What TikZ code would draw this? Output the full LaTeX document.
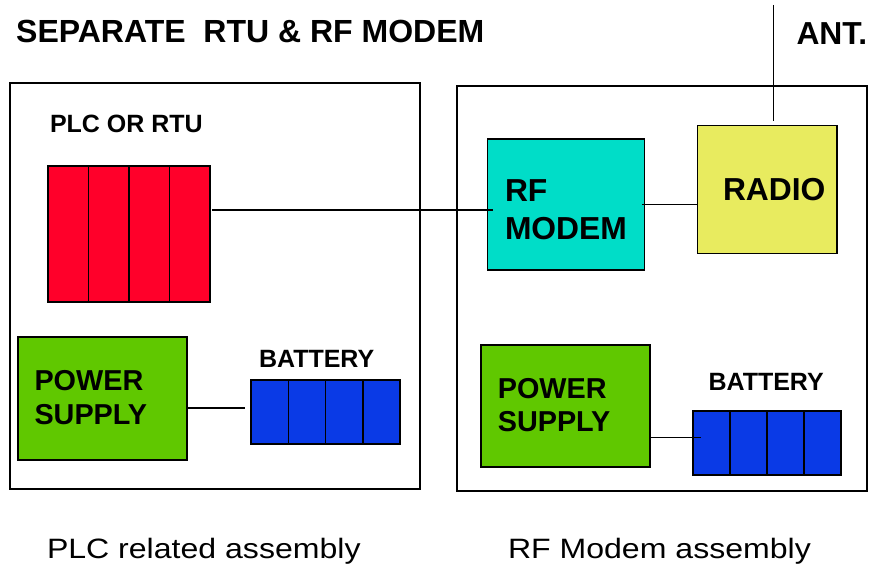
\documentclass[tikz,border=0pt]{standalone}
\usepackage{fontspec}
\setmainfont{Liberation Sans}
\usetikzlibrary{calc}
\definecolor{plcred}{RGB}{255,0,42}
\definecolor{psgreen}{RGB}{96,200,0}
\definecolor{batblue}{RGB}{10,58,230}
\definecolor{modemcyan}{RGB}{0,221,200}
\definecolor{radioyellow}{RGB}{232,235,95}
\tikzset{
  box/.style={draw=black, line width=1.5pt, anchor=north west, inner sep=0pt, outer sep=0pt},
  wire/.style={draw=black, line width=1.5pt},
  lbl/.style={anchor=base west, inner sep=0pt, outer sep=0pt, font=\bfseries\fontsize{25}{28}\selectfont},
  big/.style={anchor=base west, inner sep=0pt, outer sep=0pt, font=\bfseries\fontsize{28.8}{32}\selectfont},
  huge/.style={anchor=base west, inner sep=0pt, outer sep=0pt, font=\bfseries\fontsize{31.8}{35}\selectfont},
  captxt/.style={anchor=base west, inner sep=0pt, outer sep=0pt, font=\fontsize{28}{32}\selectfont},
}
\begin{document}
\begin{tikzpicture}[x=1pt, y=-1pt]
\useasboundingbox (0,0) rectangle (874,567);
% titles
\node[anchor=base west, inner sep=0pt, font=\bfseries\fontsize{32}{36}\selectfont] (title) at (16,42.3) {SEPARATE\ \ RTU \& RF MODEM};
\node[huge] (ant) at (796.5,45) {ANT.};
% outer assemblies
\node[box, minimum width=410pt, minimum height=406pt] (left) at (10,83) {};
\node[box, minimum width=410pt, minimum height=405pt] (right) at (457,86) {};
% left assembly
\node[lbl] (plclbl) at (50,132.7) {PLC OR RTU};
\node[box, fill=plcred, minimum width=162pt, minimum height=136pt] (plc) at (48,166) {};
\foreach \f in {0.25,0.5,0.75}
  \draw[line width=1.5pt] ($(plc.north west)!\f!(plc.north east)$) -- ($(plc.south west)!\f!(plc.south east)$);
\node[box, fill=psgreen, minimum width=169pt, minimum height=123pt] (ps1) at (18,337) {};
\node[big] (ps1a) at (34.5,390) {POWER};
\node[big] (ps1b) at (34.5,424) {SUPPLY};
\node[lbl] (bat1lbl) at (259,367.3) {BATTERY};
\node[box, fill=batblue, minimum width=149pt, minimum height=64pt] (bat1) at (251,380) {};
\foreach \f in {0.25,0.5,0.75}
  \draw[line width=1.5pt] ($(bat1.north west)!\f!(bat1.north east)$) -- ($(bat1.south west)!\f!(bat1.south east)$);
% right assembly
\node[box, fill=modemcyan, minimum width=157pt, minimum height=131pt] (modem) at (487.7,139) {};
\node[huge] (rf) at (505,201) {RF};
\node[huge] (modemtxt) at (505,239) {MODEM};
\node[box, fill=radioyellow, minimum width=139.7pt, minimum height=128pt] (radio) at (697.3,125.7) {};
\node[huge] (radiotxt) at (723,200) {RADIO};
\node[box, fill=psgreen, minimum width=169pt, minimum height=122pt] (ps2) at (481,345) {};
\node[big] (ps2a) at (497.8,398.3) {POWER};
\node[big] (ps2b) at (497.8,431.7) {SUPPLY};
\node[lbl] (bat2lbl) at (708.5,390) {BATTERY};
\node[box, fill=batblue, minimum width=148pt, minimum height=64pt] (bat2) at (693,411) {};
\foreach \f in {0.25,0.5,0.75}
  \draw[line width=1.5pt] ($(bat2.north west)!\f!(bat2.north east)$) -- ($(bat2.south west)!\f!(bat2.south east)$);
% connectors
\coordinate (m1) at (493,210);
\draw[wire] (plc.east |- m1) ++(2,0) -- (m1);
\draw[wire] (modem.east) ++(-2.5,0) -- (modem.east -| radio.west);
\coordinate (b1) at (245,408);
\draw[wire] (ps1.east |- b1) -- (b1);
\coordinate (b2) at (700.7,437.3);
\draw[wire] (ps2.east |- b2) -- (b2);
\coordinate (anttop) at (773.3,5);
\coordinate (antbot) at (773.3,121);
\draw[wire] (anttop) -- (antbot);
% captions
\node[captxt] (cap1) at (47,558) {\scalebox{1.145}[1]{PLC related assembly}};
\node[captxt] (cap2) at (508,558) {\scalebox{1.145}[1]{RF Modem assembly}};
\end{tikzpicture}
\end{document}
